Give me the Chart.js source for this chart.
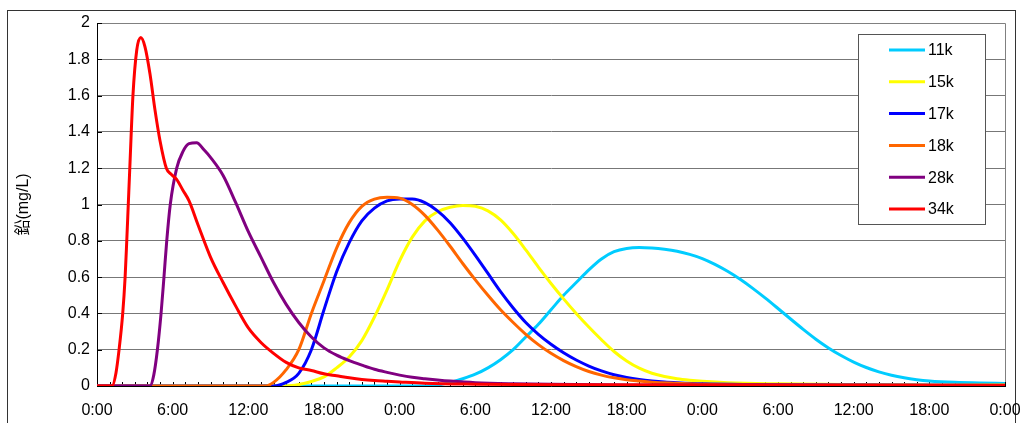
<!DOCTYPE html>
<html>
<head>
<meta charset="utf-8">
<script src="https://cdn.jsdelivr.net/npm/chart.js@4.4.1/dist/chart.umd.min.js"></script>
<style>
  html, body { margin: 0; padding: 0; background: #fff; }
  #wrap { position: relative; width: 1024px; height: 423px; overflow: hidden; }
  #frame { position: absolute; left: 7px; top: 10px; width: 1009px; height: 440px; border: 1px solid #333; box-sizing: border-box; }
  #chart { position: absolute; left: 0; top: 0; }
</style>
</head>
<body>
<div id="wrap">
  <div id="frame"></div>
  <canvas id="chart" width="1024" height="423"></canvas>
</div>
<script>
// series names and colours (legend order)
const seriesNames = ["11k", "15k", "17k", "18k", "28k", "34k"];
const seriesColors = ["#00CCFF", "#FFFF00", "#0000FF", "#FF6600", "#800080", "#FF0000"];

// x axis labels, one every 6 hours
const timeLabels = ["0:00", "6:00", "12:00", "18:00"];

// elapsed hours / lead concentration (mg/L)
const hours11k = [0, 26, 27, 28, 29, 30, 31, 32, 33, 34, 35, 36, 37, 38, 39, 40, 41, 42, 43, 44, 45, 46, 47, 48, 49, 50, 51, 52, 53, 54, 55, 56, 57, 58, 59, 60, 61, 62, 63, 64, 65, 66, 68, 70, 72];
const lead11k = [0, 0, 0.005, 0.02, 0.04, 0.065, 0.1, 0.145, 0.2, 0.27, 0.34, 0.42, 0.5, 0.57, 0.64, 0.7, 0.74, 0.758, 0.763, 0.76, 0.753, 0.742, 0.725, 0.702, 0.67, 0.632, 0.588, 0.538, 0.484, 0.427, 0.369, 0.312, 0.258, 0.21, 0.168, 0.132, 0.102, 0.078, 0.059, 0.045, 0.035, 0.028, 0.02, 0.016, 0.014];

const hours15k = [0, 15, 16, 17, 18, 19, 20, 21, 22, 23, 24, 25, 26, 27, 28, 29, 30, 31, 32, 33, 34, 35, 36, 37, 38, 39, 40, 41, 42, 43, 44, 45, 46, 47, 48, 50, 54, 60, 66, 72];
const lead15k = [0, 0, 0.008, 0.025, 0.05, 0.1, 0.16, 0.25, 0.38, 0.53, 0.69, 0.82, 0.91, 0.96, 0.985, 0.995, 0.99, 0.965, 0.915, 0.84, 0.75, 0.655, 0.565, 0.48, 0.4, 0.325, 0.255, 0.19, 0.138, 0.098, 0.07, 0.052, 0.04, 0.032, 0.026, 0.018, 0.012, 0.008, 0.006, 0.005];

const hours17k = [0, 14, 15, 16, 17, 18, 19, 20, 21, 22, 23, 24, 25, 26, 27, 28, 29, 30, 31, 32, 33, 34, 35, 36, 37, 38, 39, 40, 41, 42, 43, 44, 45, 46, 48, 52, 60, 72];
const lead17k = [0, 0, 0.02, 0.07, 0.2, 0.42, 0.63, 0.79, 0.91, 0.98, 1.02, 1.03, 1.03, 1.01, 0.965, 0.9, 0.815, 0.72, 0.62, 0.52, 0.43, 0.35, 0.285, 0.23, 0.183, 0.143, 0.11, 0.083, 0.062, 0.047, 0.036, 0.028, 0.022, 0.018, 0.012, 0.008, 0.005, 0.003];

const hours18k = [0, 13.3, 14, 15, 16, 17, 18, 19, 20, 21, 22, 23, 24, 25, 26, 27, 28, 29, 30, 31, 32, 33, 34, 35, 36, 37, 38, 39, 40, 41, 42, 43, 44, 46, 48, 52, 60, 72];
const lead18k = [0, 0, 0.02, 0.09, 0.2, 0.4, 0.58, 0.76, 0.9, 0.99, 1.03, 1.04, 1.035, 1.0, 0.94, 0.86, 0.77, 0.675, 0.585, 0.5, 0.42, 0.35, 0.285, 0.228, 0.18, 0.14, 0.107, 0.08, 0.06, 0.045, 0.034, 0.027, 0.021, 0.015, 0.01, 0.006, 0.004, 0.003];

const hours28k = [0, 4.2, 4.5, 4.79, 5.08, 5.31, 5.53, 5.81, 6.32, 6.8, 7.3, 7.9, 8.5, 9, 10, 11, 12, 13, 14, 15, 16, 17, 18, 19, 20, 21, 22, 23, 24, 25, 26, 27, 28, 30, 33, 36, 42, 48, 60, 72];
const lead28k = [0, 0, 0.06, 0.2, 0.4, 0.6, 0.8, 1.0, 1.2, 1.29, 1.335, 1.34, 1.3, 1.26, 1.16, 1.01, 0.85, 0.71, 0.57, 0.45, 0.35, 0.27, 0.21, 0.17, 0.14, 0.115, 0.092, 0.075, 0.06, 0.048, 0.04, 0.033, 0.027, 0.018, 0.012, 0.009, 0.006, 0.005, 0.004, 0.003];

const hours34k = [0, 1.2, 1.5, 1.75, 2.04, 2.23, 2.36, 2.48, 2.6, 2.85, 3.15, 3.47, 3.8, 4.2, 4.6, 5, 5.5, 5.9, 6.3, 6.8, 7.3, 8, 9, 10, 11, 12, 13, 14, 15, 16, 17, 18, 19, 20, 21, 22, 23, 24, 26, 30, 36, 48, 72];
const lead34k = [0, 0, 0.07, 0.2, 0.4, 0.6, 0.8, 1.0, 1.2, 1.6, 1.85, 1.92, 1.87, 1.72, 1.52, 1.35, 1.2, 1.165, 1.14, 1.08, 1.02, 0.89, 0.71, 0.57, 0.44, 0.32, 0.24, 0.18, 0.13, 0.1, 0.085, 0.067, 0.056, 0.045, 0.036, 0.03, 0.026, 0.022, 0.015, 0.01, 0.007, 0.005, 0.004];

const seriesHours = [hours11k, hours15k, hours17k, hours18k, hours28k, hours34k];
const seriesLead = [lead11k, lead15k, lead17k, lead18k, lead28k, lead34k];

const fontFamily = "'Liberation Sans', Arial, 'Noto Sans CJK JP', sans-serif";

const datasets = seriesNames.map((name, i) => ({
  label: name,
  data: seriesHours[i].map((h, k) => ({ x: h, y: seriesLead[i][k] })),
  borderColor: seriesColors[i],
  backgroundColor: seriesColors[i],
  order: seriesNames.length - i, // later series drawn on top, like excel
}));

// hour tick marks inside the plot, plus top/right frame
const axisDecor = {
  id: "axisDecor",
  beforeDatasetsDraw(chart) {
    const { ctx, chartArea: a, scales: { x, y } } = chart;
    ctx.save();
    ctx.lineWidth = 1;
    ctx.strokeStyle = "#808080";
    ctx.beginPath();
    ctx.moveTo(a.left, a.top + 0.5);
    ctx.lineTo(a.right + 0.5, a.top + 0.5);
    ctx.lineTo(a.right + 0.5, a.bottom);
    ctx.stroke();

    ctx.strokeStyle = "#000";
    ctx.beginPath();
    for (let h = x.min; h <= x.max; h++) {
      const px = Math.round(x.getPixelForValue(h)) + 0.5;
      ctx.moveTo(px, a.bottom);
      ctx.lineTo(px, a.bottom - 4);
    }
    y.ticks.forEach((t) => {
      const py = Math.round(y.getPixelForValue(t.value)) + 0.5;
      ctx.moveTo(a.left, py);
      ctx.lineTo(a.left + 5, py);
    });
    ctx.stroke();
    ctx.restore();
  },
};

// boxed legend at top right
const legendBox = {
  id: "legendBox",
  afterDraw(chart) {
    const ctx = chart.ctx;
    ctx.save();
    ctx.fillStyle = "#fff";
    ctx.fillRect(859, 35, 126, 189);
    ctx.strokeStyle = "#555";
    ctx.lineWidth = 1;
    ctx.strokeRect(858.5, 34.5, 127, 190);
    ctx.font = "16px " + fontFamily;
    ctx.textBaseline = "middle";
    ctx.fillStyle = "#000";
    chart.data.datasets.forEach((ds, i) => {
      const rowY = 50 + i * 31.8;
      ctx.strokeStyle = ds.borderColor;
      ctx.lineWidth = 3;
      ctx.beginPath();
      ctx.moveTo(889, rowY);
      ctx.lineTo(925, rowY);
      ctx.stroke();
      ctx.fillText(ds.label, 928, rowY + 1);
    });
    ctx.restore();
  },
};

new Chart(document.getElementById("chart"), {
  type: "line",
  data: { datasets: datasets },
  options: {
    responsive: false,
    animation: false,
    devicePixelRatio: 1,
    layout: { padding: { top: 23, right: 19, left: 0, bottom: 0 } },
    plugins: { legend: { display: false }, tooltip: { enabled: false } },
    elements: {
      point: { radius: 0 },
      line: { borderWidth: 3, cubicInterpolationMode: "monotone" },
    },
    scales: {
      x: {
        type: "linear",
        min: 0,
        max: 72,
        afterFit: (s) => {
          s.height = 37;
          s.paddingLeft = 0;
          s.paddingRight = 0;
        },
        grid: { drawOnChartArea: false, drawTicks: false },
        border: { color: "#000", width: 1 },
        ticks: {
          stepSize: 6,
          autoSkip: false,
          maxRotation: 0,
          padding: 15,
          color: "#000",
          font: { family: fontFamily, size: 16 },
          callback: (v) => timeLabels[(v / 6) % 4],
        },
      },
      y: {
        min: 0,
        max: 2,
        afterFit: (s) => {
          s.width = 97;
          s.paddingTop = 0;
          s.paddingBottom = 0;
        },
        grid: { color: "#777", drawTicks: false },
        border: { color: "#000", width: 1 },
        ticks: {
          stepSize: 0.2,
          padding: 7,
          color: "#000",
          font: { family: fontFamily, size: 16 },
          callback: (v) => String(Math.round(v * 10) / 10),
        },
        title: {
          display: true,
          text: "鉛(mg/L)",
          color: "#000",
          padding: { top: 14, bottom: 0 },
          font: { family: fontFamily, size: 16 },
        },
      },
    },
  },
  plugins: [axisDecor, legendBox],
});
</script>
</body>
</html>
